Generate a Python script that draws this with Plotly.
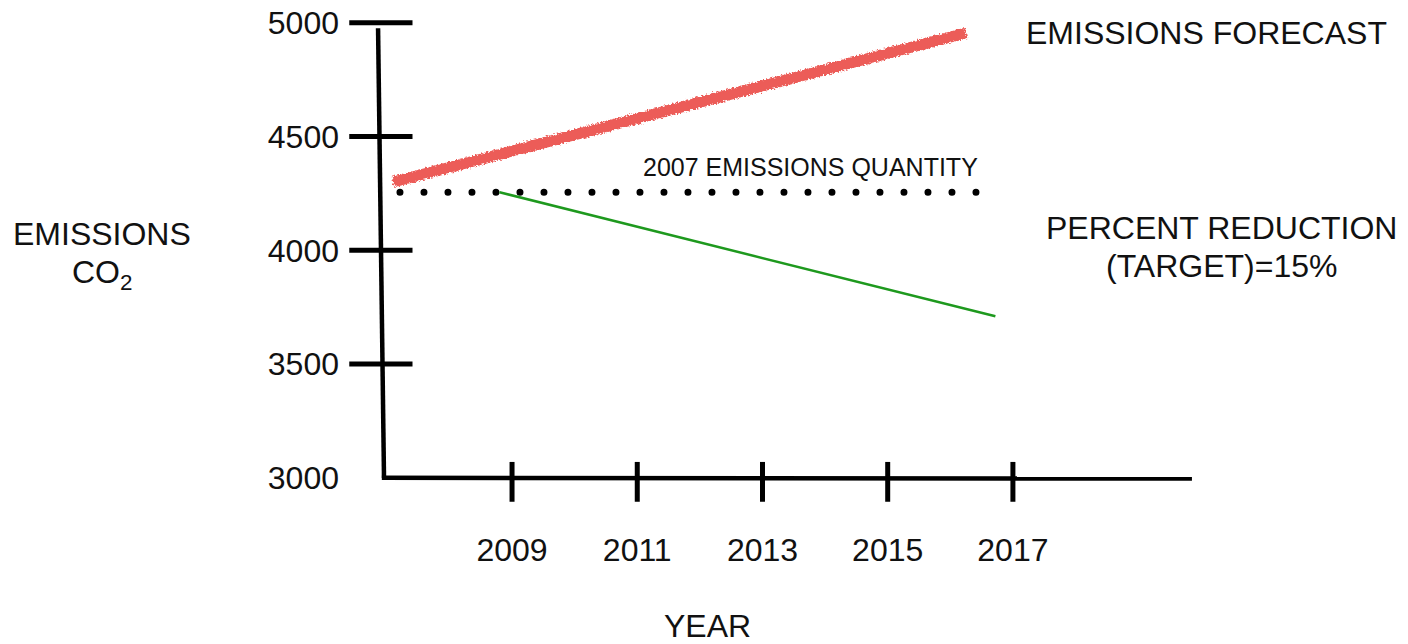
import plotly.graph_objects as go

# ---- data ----
forecast_years = [2007.1, 2016.25]
forecast_values = [4300, 4955]

baseline_years = [2007.21, 2016.51]
baseline_values = [4255, 4255]

target_years = [2008.8, 2016.72]
target_values = [4255, 3710]

y_ticks = [3000, 3500, 4000, 4500, 5000]
y_tick_labels = ["3000", "3500", "4000", "4500", "5000"]
x_ticks = [2009, 2011, 2013, 2015, 2017]
x_tick_labels = ["2009", "2011", "2013", "2015", "2017"]

FONT = "Liberation Sans, Arial, sans-serif"
INK = "#111111"

# ---- layout geometry ----
W, H = 1408, 644
L, R, T, B = 343, 201, 0, 132
PW, PH = W - L - R, H - T - B
XR = [2006.3, 2020.1]
YR = [2850, 5100]


def px(x):
    return (x - L) / PW


def py(y):
    return (T + PH - y) / PH


fig = go.Figure()

fig.add_trace(go.Scatter(
    x=forecast_years, y=forecast_values, mode="lines",
    line=dict(color="#EC5C58", width=11), hoverinfo="skip", showlegend=False))

fig.add_trace(go.Scatter(
    x=baseline_years, y=baseline_values, mode="lines",
    line=dict(color="#000000", width=7, dash="0px,24px"),
    hoverinfo="skip", showlegend=False))

fig.add_trace(go.Scatter(
    x=target_years, y=target_values, mode="lines",
    line=dict(color="#1E991E", width=2.5), hoverinfo="skip", showlegend=False))

shapes = []
# hand-drawn axes
shapes.append(dict(type="line", xref="x", yref="y", x0=2006.86, y0=4976,
                   x1=2006.955, y1=3000, line=dict(color="black", width=4.5)))
shapes.append(dict(type="line", xref="x", yref="y", x0=2006.92, y0=3000,
                   x1=2019.86, y1=2997, line=dict(color="black", width=4.5)))
for v in [5000, 4500, 4000, 3500]:
    shapes.append(dict(type="line", xref="x", yref="y", x0=2006.4, y0=v,
                       x1=2007.41, y1=v, line=dict(color="black", width=5)))
for v in x_ticks:
    shapes.append(dict(type="line", xref="x", yref="y", x0=v, y0=3070,
                       x1=v, y1=2895, line=dict(color="black", width=5)))

ann = []


def text(t, x, y, size=32, xanchor="left"):
    ann.append(dict(text=t, xref="paper", yref="paper", x=px(x), y=py(y),
                    xanchor=xanchor, yanchor="middle", showarrow=False,
                    font=dict(family=FONT, size=size, color=INK)))


text("EMISSIONS FORECAST", 1024, 33)
text("2007 EMISSIONS QUANTITY", 641, 167, size=25)
text("PERCENT REDUCTION", 1221, 228, xanchor="center")
text("(TARGET)=15%", 1221, 266, xanchor="center")
text("EMISSIONS", 102, 234, xanchor="center")
text("CO<sub>2</sub>", 102, 274, xanchor="center")
text("YEAR", 707, 626, xanchor="center")

fig.update_layout(
    width=W, height=H,
    margin=dict(l=L, r=R, t=T, b=B, pad=0),
    paper_bgcolor="white", plot_bgcolor="white",
    shapes=shapes, annotations=ann,
    font=dict(family=FONT, size=32, color=INK),
    xaxis=dict(range=XR, showgrid=False, zeroline=False, showline=False,
               tickmode="array", tickvals=x_ticks, ticktext=x_tick_labels,
               ticks="", ticklabelstandoff=16,
               tickfont=dict(family=FONT, size=32, color=INK), fixedrange=True),
    yaxis=dict(range=YR, showgrid=False, zeroline=False, showline=False,
               tickmode="array", tickvals=y_ticks, ticktext=y_tick_labels,
               ticks="", ticklabelstandoff=3,
               tickfont=dict(family=FONT, size=32, color=INK), fixedrange=True),
)

post = """
document.documentElement.style.margin = '0';
document.body.style.margin = '0';
document.body.style.overflow = 'hidden';
var gd = document.getElementById('{plot_id}');
var svg = gd.querySelector('svg.main-svg');
var ns = 'http://www.w3.org/2000/svg';
var defs = svg.querySelector('defs') || svg.insertBefore(document.createElementNS(ns, 'defs'), svg.firstChild);
var f = document.createElementNS(ns, 'filter');
f.setAttribute('id', 'chalk');
f.setAttribute('x', '-5%'); f.setAttribute('y', '-20%');
f.setAttribute('width', '110%'); f.setAttribute('height', '140%');
var t = document.createElementNS(ns, 'feTurbulence');
t.setAttribute('type', 'fractalNoise'); t.setAttribute('baseFrequency', '0.55');
t.setAttribute('numOctaves', '2'); t.setAttribute('seed', '3'); t.setAttribute('result', 'n');
var d = document.createElementNS(ns, 'feDisplacementMap');
d.setAttribute('in', 'SourceGraphic'); d.setAttribute('in2', 'n');
d.setAttribute('scale', '5'); d.setAttribute('xChannelSelector', 'R');
d.setAttribute('yChannelSelector', 'G');
f.appendChild(t); f.appendChild(d); defs.appendChild(f);
gd.querySelectorAll('.scatterlayer path.js-line').forEach(function(p){
  var da = p.style.strokeDasharray || '';
  if (da.indexOf('24') >= 0) { p.style.strokeLinecap = 'round'; }
  var s = (p.style.stroke || '').replace(/\\s/g, '');
  if (s.indexOf('236,92,88') >= 0) { p.setAttribute('filter', 'url(#chalk)'); }
});
"""

fig.write_html("out.html", config={"displayModeBar": False}, post_script=post)
